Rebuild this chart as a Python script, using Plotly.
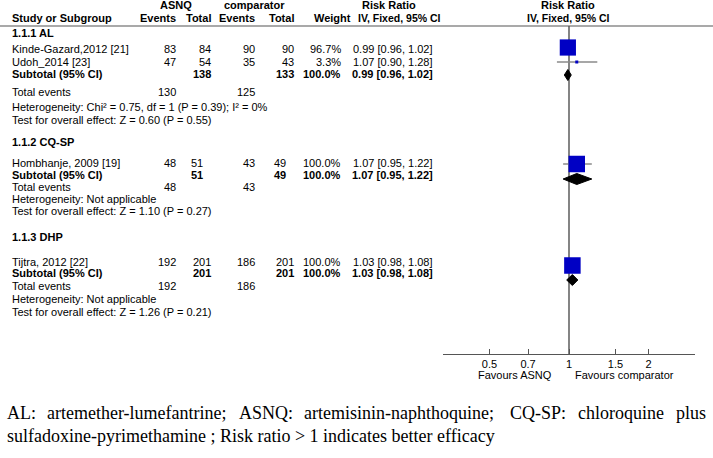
import math
import plotly.graph_objects as go

# ---------------- data ----------------
studies = ["Kinde-Gazard,2012 [21]", "Udoh_2014 [23]", "Hombhanje, 2009 [19]", "Tijtra, 2012 [22]"]
study_group = [0, 0, 1, 2]
asnq_events = [83, 47, 48, 192]
asnq_total = [84, 54, 51, 201]
comp_events = [90, 35, 43, 186]
comp_total = [90, 43, 49, 201]
weights = [96.7, 3.3, 100.0, 100.0]
rr = [0.99, 1.07, 1.07, 1.03]
rr_lo = [0.96, 0.90, 0.95, 0.98]
rr_hi = [1.02, 1.28, 1.22, 1.08]

subgroups = ["1.1.1 AL", "1.1.2 CQ-SP", "1.1.3 DHP"]
sub_total_asnq = [138, 51, 201]
sub_total_comp = [133, 49, 201]
sub_events_asnq = [130, 48, 192]
sub_events_comp = [125, 43, 186]
sub_weight = [100.0, 100.0, 100.0]
sub_rr = [0.99, 1.07, 1.03]
sub_lo = [0.96, 0.95, 0.98]
sub_hi = [1.02, 1.22, 1.08]
heterogeneity = ["Heterogeneity: Chi² = 0.75, df = 1 (P = 0.39); I² = 0%",
                 "Heterogeneity: Not applicable",
                 "Heterogeneity: Not applicable"]
overall_effect = ["Test for overall effect: Z = 0.60 (P = 0.55)",
                  "Test for overall effect: Z = 1.10 (P = 0.27)",
                  "Test for overall effect: Z = 1.26 (P = 0.21)"]
tick_values = [0.5, 0.7, 1, 1.5, 2]
tick_labels = ["0.5", "0.7", "1", "1.5", "2"]
favours = ["Favours ASNQ", "Favours comparator"]
footnote_1_words = ["AL:", "artemether-lumefantrine;", "ASNQ:", "artemisinin-naphthoquine;",
                    "CQ-SP:", "chloroquine", "plus"]
footnote_2 = "sulfadoxine-pyrimethamine ; Risk ratio > 1 indicates better efficacy"

# ---------------- layout (pixel positions) ----------------
W, H = 713, 458
header_y = [5, 18]
group_y = [33, 142, 237]
study_y = [49, 62, 163, 262]
study_mark_y = [47.5, 62, 164, 265.5]
subtotal_y = [74, 175, 273]
subtotal_mark_y = [75, 179, 280]
events_y = [92, 187, 286]
het_y = [107, 199, 299]
test_y = [120, 211, 312]
rule_y = 26
axis_y = 354
total_shift = [0, -8, 0]   # the CQ-SP block's Total columns sit a little further left
foot_word_x = [5, 45, 237, 302, 508, 576, 708]   # justified first footnote line
foot_y = [413, 436]

X_NAME = 10
X_AEV, X_ATOT, X_CEV, X_CTOT, X_WH, X_W, X_RR = 178, 213, 257, 296, 353, 343, 435

FONT = "Arial, Liberation Sans, sans-serif"
SERIF = "Liberation Serif, Times New Roman, serif"
FS = 11
FOOT_FS = 18
BLUE = "#0000C4"

fig = go.Figure()
ann = []


def txt(x, y, s, anchor="left", bold=False, size=FS, family=FONT, color="#000"):
    ann.append(dict(x=x / W, y=y, xref="paper", yref="y", text=("<b>%s</b>" % s) if bold else s,
                    showarrow=False, xanchor=anchor, yanchor="middle",
                    font=dict(family=family, size=size, color=color)))


# header
txt(176, header_y[0], "ASNQ", "center", True)
txt(254, header_y[0], "comparator", "center", True)
txt(389, header_y[0], "Risk Ratio", "center", True)
txt(568, header_y[0], "Risk Ratio", "center", True)
txt(X_NAME, header_y[1], "Study or Subgroup", "left", True)
txt(X_AEV, header_y[1], "Events", "right", True)
txt(X_ATOT, header_y[1], "Total", "right", True)
txt(X_CEV, header_y[1], "Events", "right", True)
txt(X_CTOT, header_y[1], "Total", "right", True)
txt(X_WH, header_y[1], "Weight", "right", True)
txt(356, header_y[1], "IV, Fixed, 95% CI", "left", True, 10.5)
txt(568, header_y[1], "IV, Fixed, 95% CI", "center", True, 10.5)

# study rows
for i, s in enumerate(studies):
    g = study_group[i]
    sh = total_shift[g]
    y = study_y[i]
    txt(X_NAME, y, s)
    txt(X_AEV, y, str(asnq_events[i]), "right")
    txt(X_ATOT + sh, y, str(asnq_total[i]), "right")
    txt(X_CEV, y, str(comp_events[i]), "right")
    txt(X_CTOT + sh, y, str(comp_total[i]), "right")
    txt(X_W, y, "%.1f%%" % weights[i], "right")
    txt(X_RR, y, "%.2f [%.2f, %.2f]" % (rr[i], rr_lo[i], rr_hi[i]), "right")

# subgroup rows
for g, name in enumerate(subgroups):
    sh = total_shift[g]
    txt(X_NAME, group_y[g], name, "left", True)
    y = subtotal_y[g]
    txt(X_NAME, y, "Subtotal (95% CI)", "left", True)
    txt(X_ATOT + sh, y, str(sub_total_asnq[g]), "right", True)
    txt(X_CTOT + sh, y, str(sub_total_comp[g]), "right", True)
    txt(X_W, y, "%.1f%%" % sub_weight[g], "right", True)
    txt(X_RR, y, "%.2f [%.2f, %.2f]" % (sub_rr[g], sub_lo[g], sub_hi[g]), "right", True)
    txt(X_NAME, events_y[g], "Total events")
    txt(X_AEV, events_y[g], str(sub_events_asnq[g]), "right")
    txt(X_CEV, events_y[g], str(sub_events_comp[g]), "right")
    txt(X_NAME, het_y[g], heterogeneity[g])
    txt(X_NAME, test_y[g], overall_effect[g])

# favours labels
txt(554, 375, favours[0], "right")
txt(573, 375, favours[1], "left")

# footnote (first line justified across the width)
for k, w in enumerate(footnote_1_words):
    anchor = "right" if k == len(footnote_1_words) - 1 else "left"
    txt(foot_word_x[k], foot_y[0], w, anchor, False, FOOT_FS, SERIF)
txt(5, foot_y[1], footnote_2, "left", False, FOOT_FS, SERIF)

# ---------------- marks ----------------
fig.add_trace(go.Scatter(x=[1, 1], y=[rule_y, axis_y], mode="lines",
                         line=dict(color="#666666", width=1.6), hoverinfo="skip", showlegend=False))
cx, cy = [], []
for i in range(len(studies)):
    cx += [rr_lo[i], rr_hi[i], None]
    cy += [study_mark_y[i], study_mark_y[i], None]
fig.add_trace(go.Scatter(x=cx, y=cy, mode="lines", line=dict(color="#8a8a8a", width=1.5),
                         hoverinfo="skip", showlegend=False))
fig.add_trace(go.Scatter(x=rr, y=study_mark_y, mode="markers",
                         marker=dict(symbol="square", color=BLUE, opacity=1,
                                     size=[max(2.5, 16.5 * math.sqrt(w / 100.0)) for w in weights],
                                     line=dict(width=0)),
                         hoverinfo="skip", showlegend=False))
for g in range(len(subgroups)):
    y = subtotal_mark_y[g]
    h = 5.5
    fig.add_trace(go.Scatter(x=[sub_lo[g], sub_rr[g], sub_hi[g], sub_rr[g], sub_lo[g]],
                             y=[y, y - h, y, y + h, y], mode="lines", fill="toself",
                             fillcolor="#000000", line=dict(color="#000000", width=1),
                             hoverinfo="skip", showlegend=False))

shapes = [dict(type="line", xref="paper", yref="y", x0=0, x1=1, y0=rule_y, y1=rule_y,
               line=dict(color="#555555", width=1.2))]

fig.update_layout(
    width=W, height=H, margin=dict(l=0, r=0, t=0, b=0),
    paper_bgcolor="white", plot_bgcolor="white",
    xaxis=dict(type="log", range=[math.log10(1 / 3), math.log10(3)],
               domain=[443 / W, 695 / W], anchor="free", position=1 - axis_y / H,
               showgrid=False, zeroline=False, showline=True, linecolor="#555555", linewidth=1.2,
               ticks="inside", ticklen=5, tickcolor="#555555", tickwidth=1,
               tickvals=tick_values, ticktext=tick_labels,
               tickfont=dict(family=FONT, size=FS, color="#000")),
    yaxis=dict(range=[H, 0], domain=[0, 1], visible=False, showgrid=False, zeroline=False),
    annotations=ann, shapes=shapes,
)

fig.write_html("out.html", config={"displayModeBar": False},
               post_script="document.body.style.margin='0px';")
